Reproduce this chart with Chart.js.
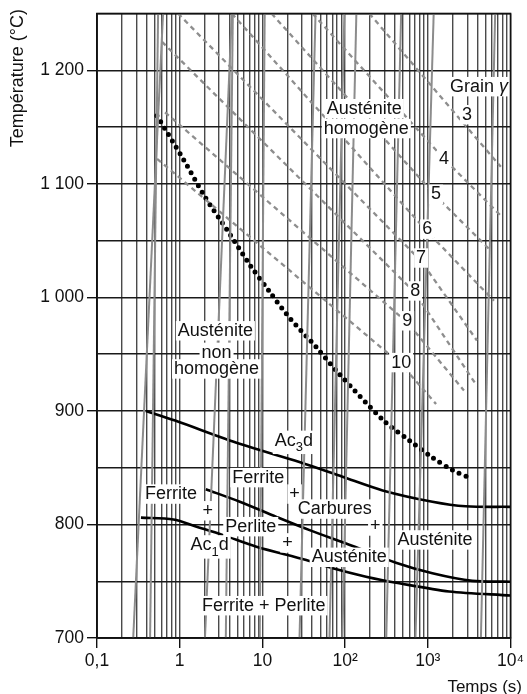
<!DOCTYPE html>
<html>
<head>
<meta charset="utf-8">
<script src="https://cdn.jsdelivr.net/npm/chart.js@4.4.0/dist/chart.umd.min.js"></script>
<style>
  html, body { margin: 0; padding: 0; background: #fff; }
</style>
</head>
<body>
<canvas id="myChart" width="527" height="694"></canvas>
<script>
// axis ticks
var timeTicks = [0.1, 1, 10, 100, 1000, 10000];
var timeTickLabels = ['0,1', '1', '10', '10²', '10³', '10⁴'];
var tempTicks = [700, 800, 900, 1000, 1100, 1200];

// limit of homogeneous austenite (dotted)
var homTime = [0.53, 1.1, 2.0, 3.85, 7.0, 12.2, 21.3, 45, 81.5, 297, 596, 1136, 1980, 3200];
var homTemp = [1160, 1122, 1089, 1058, 1029, 1005, 982, 956, 934, 891, 874, 859, 848, 841];

// Ac3d
var ac3Time = [0.39, 0.88, 5.3, 28, 93, 284, 1136, 2870, 10000];
var ac3Temp = [900, 891.5, 871, 855, 842, 830, 820, 816, 815.5];

// end of carbide dissolution
var carbTime = [2.07, 5.33, 14.75, 37.2, 123.5, 412, 1136, 3444, 10000];
var carbTemp = [831, 820, 806.7, 795, 781, 766.3, 757, 750.3, 749.6];

// Ac1d
var ac1Time = [0.34, 0.84, 1.6, 3.35, 8.47, 33.9, 70.9, 179, 451, 1806, 10000];
var ac1Temp = [806, 804.4, 798, 790.6, 780.4, 768.7, 761.4, 754, 748.2, 741, 737.4];

// austenite grain size lines (dashed)
var grainNames = ['3', '4', '5', '6', '7', '8', '9', '10'];
var grainTimes = [
  [196, 7640],
  [40.4, 1572, 7850],
  [12.9, 1259, 5800],
  [4.27, 982, 6300],
  [0.954, 830, 3925],
  [0.612, 703, 3925],
  [0.665, 563, 2735],
  [0.533, 476, 1259]
];
var grainTemps = [
  [1250, 1115],
  [1250, 1122, 1071],
  [1250, 1089, 1041],
  [1250, 1058, 997],
  [1250, 1032, 962],
  [1225, 1004, 922],
  [1163, 978, 918],
  [1122, 941, 906]
];

// heating curves (grey, nearly vertical): time at 700 and at 1250 degC
var heatBottom = [0.274, 0.4385, 2.02, 3.61, 9.28, 28.1, 64.7, 92.7, 314.5, 709, 4385];
var heatTop    = [0.629, 0.548, 4.27, 4.39, 10.66, 43.9, 98, 136.8, 476, 1178, 6523];

// texts in the diagram
var labelTexts = ['Grain γ', '3', '4', '5', '6', '7', '8', '9', '10',
  'Austénite', 'homogène', 'Austénite', 'non', 'homogène',
  'Ac_3d', 'Ferrite', '+', 'Carbures', '+', 'Austénite',
  'Ferrite', '+', 'Perlite', '+', 'Austénite', 'Ac_1d', 'Ferrite + Perlite'];
var labelTimes = [4150, 2975, 1572, 1259, 982, 830, 703, 563, 476,
  170.8, 180.6, 2.70, 2.79, 2.79,
  24, 8.9, 24.5, 75, 232, 1225,
  0.786, 2.19, 7.23, 20.1, 112, 2.3, 10.4];
var labelTemps = [1185.4, 1160.7, 1122.2, 1090.6, 1059.9, 1034.5, 1005.5, 979.2, 942.4,
  1166, 1148.5, 970.4, 951.4, 936.8,
  873.9, 841.1, 826.6, 813.4, 798.5, 786.2,
  826.6, 811.9, 797.9, 783.6, 770.9, 781.8, 728.3];

var FONT = '"Liberation Sans", Arial, Helvetica, sans-serif';

function pts(xs, ys) {
  return xs.map(function (x, i) { return { x: x, y: ys[i] }; });
}

function isDecade(v) {
  for (var i = 0; i < timeTicks.length; i++) {
    if (Math.abs(v - timeTicks[i]) < timeTicks[i] * 1e-6) return i;
  }
  return -1;
}

function fmtTemp(v) {
  var s = String(v);
  if (v >= 1000) s = s.slice(0, 1) + ' ' + s.slice(1);
  return s;
}

var datasets = [];
heatBottom.forEach(function (b, i) {
  datasets.push({
    data: [{ x: b, y: 700 }, { x: heatTop[i], y: 1250 }],
    borderColor: '#8c8c8c', borderWidth: 2, pointRadius: 0, tension: 0
  });
});
grainNames.forEach(function (n, i) {
  datasets.push({
    data: pts(grainTimes[i], grainTemps[i]),
    borderColor: '#8e8e8e', borderWidth: 2.3, borderDash: [5, 4],
    pointRadius: 0, tension: 0
  });
});
datasets.push({
  data: pts(homTime, homTemp), borderColor: '#000', borderWidth: 5,
  borderDash: [0, 7.4], borderCapStyle: 'round', pointRadius: 0, tension: 0.3
});
[[ac3Time, ac3Temp], [carbTime, carbTemp], [ac1Time, ac1Temp]].forEach(function (c) {
  datasets.push({
    data: pts(c[0], c[1]), borderColor: '#000', borderWidth: 2.6,
    pointRadius: 0, tension: 0.3
  });
});

function drawLabel(ctx, text, cx, cy) {
  var size = 18;
  var parts = [];
  for (var i = 0; i < text.length; i++) {
    var ch = text[i];
    if (ch === '_') { parts.push({ t: text[i + 1], sub: true }); i++; continue; }
    if (ch === 'γ') { parts.push({ t: ch, it: true }); continue; }
    var last = parts[parts.length - 1];
    if (last && !last.sub && !last.it) last.t += ch; else parts.push({ t: ch });
  }
  var w = 0;
  parts.forEach(function (p) {
    ctx.font = (p.it ? 'italic ' : '') + (p.sub ? size * 0.72 : size) + 'px ' + FONT;
    p.w = ctx.measureText(p.t).width;
    w += p.w;
  });
  var x = cx - w / 2;
  var hasSub = parts.some(function (p) { return p.sub; });
  ctx.fillStyle = '#fff';
  ctx.fillRect(x - 2, cy - size * 0.55, w + 4, size * (hasSub ? 1.3 : 1.08));
  ctx.fillStyle = '#111';
  ctx.textAlign = 'left';
  ctx.textBaseline = 'middle';
  parts.forEach(function (p) {
    ctx.font = (p.it ? 'italic ' : '') + (p.sub ? size * 0.72 : size) + 'px ' + FONT;
    ctx.fillText(p.t, x, cy + (p.sub ? size * 0.38 : 0));
    x += p.w;
  });
}

var overlay = {
  id: 'overlay',
  afterDatasetsDraw: function (chart) {
    var ctx = chart.ctx, xs = chart.scales.x, ys = chart.scales.y, a = chart.chartArea;
    ctx.save();
    labelTexts.forEach(function (t, i) {
      drawLabel(ctx, t, xs.getPixelForValue(labelTimes[i]), ys.getPixelForValue(labelTemps[i]));
    });
    ctx.strokeStyle = '#111';
    ctx.lineWidth = 1.6;
    ctx.strokeRect(a.left, a.top, a.right - a.left, a.bottom - a.top);
    ctx.fillStyle = '#111';
    ctx.font = '17px ' + FONT;
    ctx.textBaseline = 'middle';
    ctx.textAlign = 'right';
    ctx.fillText('Temps (s)', 522, 687);
    ctx.font = '18px ' + FONT;
    ctx.translate(18, 9);
    ctx.rotate(-Math.PI / 2);
    ctx.fillText('Température (°C)', 0, 0);
    ctx.restore();
  }
};

var ctx = document.getElementById('myChart').getContext('2d');
var myChart = new Chart(ctx, {
  type: 'line',
  data: { datasets: datasets },
  plugins: [overlay],
  options: {
    responsive: false,
    animation: false,
    devicePixelRatio: 1,
    layout: { padding: { top: 11, right: 15, left: 0, bottom: 0 } },
    plugins: { legend: { display: false }, tooltip: { enabled: false } },
    scales: {
      x: {
        type: 'logarithmic',
        min: 0.1,
        max: 10000,
        afterBuildTicks: function (scale) {
          var t = [];
          for (var d = -1; d < 4; d++) {
            for (var m = 1; m < 10; m++) t.push({ value: m * Math.pow(10, d) });
          }
          t.push({ value: 10000 });
          scale.ticks = t;
        },
        afterFit: function (scale) { scale.height = 56; },
        ticks: {
          autoSkip: false, maxRotation: 0, padding: 3, color: '#111',
          font: { family: FONT, size: 17.5 },
          callback: function (v) {
            var i = isDecade(v);
            return i >= 0 ? timeTickLabels[i] : '';
          }
        },
        grid: {
          color: '#4a4a4a', lineWidth: 1.4, tickLength: 10,
          tickColor: function (c) { return c.tick && isDecade(c.tick.value) >= 0 ? '#111' : 'rgba(0,0,0,0)'; }
        },
        border: { color: '#111', width: 1.6 }
      },
      y: {
        min: 700,
        max: 1250,
        afterFit: function (scale) { scale.width = 97; },
        ticks: {
          stepSize: 50, padding: 3, color: '#111',
          font: { family: FONT, size: 17.5 },
          callback: function (v) { return tempTicks.indexOf(v) >= 0 ? fmtTemp(v) : ''; }
        },
        grid: {
          color: '#1a1a1a', lineWidth: 1.4, tickLength: 10,
          tickColor: function (c) { return c.tick && tempTicks.indexOf(c.tick.value) >= 0 ? '#111' : 'rgba(0,0,0,0)'; }
        },
        border: { color: '#111', width: 1.6 }
      }
    }
  }
});
</script>
</body>
</html>
